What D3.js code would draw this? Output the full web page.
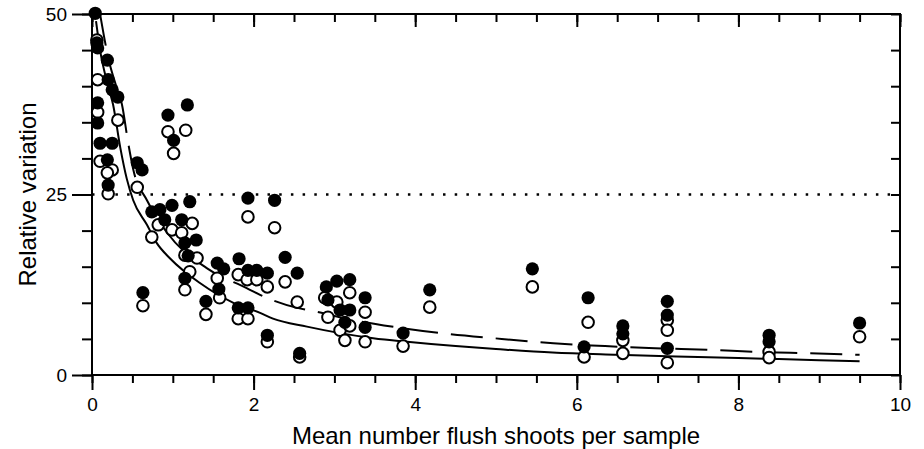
<!DOCTYPE html>
<html>
<head>
<meta charset="utf-8">
<script src="https://cdn.jsdelivr.net/npm/d3@7"></script>
<style>
  body { margin: 0; background: #fff; }
  text { font-family: "Liberation Sans", Arial, sans-serif; fill: #000; }
</style>
</head>
<body>
<div id="chart"></div>
<script>

// --------------------------------------
//  Data
// --------------------------------------

// filled circles [mean shoots, relative variation]
const filledPoints = [
  [0.04, 50.1], [0.06, 46.0], [0.07, 45.3], [0.19, 43.6], [0.20, 40.9], [0.25, 39.5],
  [0.32, 38.5], [0.07, 37.7], [0.07, 34.9], [0.10, 32.1], [0.25, 32.1], [0.19, 29.8],
  [0.56, 29.4], [0.62, 28.4], [0.20, 26.3], [0.74, 22.6], [0.84, 22.9], [0.99, 23.5],
  [1.21, 24.0], [0.90, 21.5], [1.11, 21.5], [0.94, 36.0], [1.18, 37.4], [1.01, 32.5],
  [1.15, 18.3], [1.29, 18.7], [1.19, 16.5], [1.15, 13.4], [0.63, 11.4], [1.41, 10.2],
  [1.55, 15.5], [1.63, 14.7], [1.57, 11.9], [1.82, 16.1], [1.93, 14.5], [2.04, 14.5],
  [2.17, 14.1], [1.81, 9.3], [1.93, 9.3], [1.93, 24.5], [2.26, 24.2], [2.39, 16.3],
  [2.54, 14.1], [2.17, 5.5], [2.57, 3.0], [2.90, 12.2], [3.03, 13.0], [3.19, 13.2],
  [3.38, 10.7], [2.92, 10.4], [3.07, 9.0], [3.19, 9.0], [3.13, 7.3], [3.38, 6.6],
  [3.85, 5.8], [4.18, 11.8], [5.45, 14.7], [6.14, 10.7], [6.09, 3.9], [6.57, 6.8],
  [6.57, 5.7], [7.12, 10.2], [7.12, 8.3], [7.12, 3.7], [8.38, 5.5], [8.38, 4.6],
  [9.50, 7.2]
];

// open circles [mean shoots, relative variation]
const openPoints = [
  [0.06, 46.4], [0.07, 40.9], [0.07, 36.4], [0.32, 35.3], [0.10, 29.6], [0.25, 28.4],
  [0.19, 28.0], [0.20, 25.1], [0.56, 26.0], [0.74, 19.1], [0.82, 20.8], [0.99, 20.1],
  [1.11, 19.7], [1.24, 21.0], [0.94, 33.7], [1.16, 33.9], [1.01, 30.7], [1.15, 16.6],
  [1.30, 16.2], [1.21, 14.3], [1.15, 11.8], [0.63, 9.6], [1.41, 8.4], [1.55, 13.4],
  [1.58, 10.7], [1.81, 13.9], [1.92, 13.2], [2.04, 13.2], [2.17, 12.2], [1.81, 7.8],
  [1.93, 7.8], [1.93, 21.9], [2.26, 20.4], [2.39, 12.9], [2.54, 10.1], [2.17, 4.6],
  [2.57, 2.5], [2.88, 10.7], [3.03, 10.1], [3.19, 11.4], [3.38, 8.7], [2.92, 8.0],
  [3.07, 6.2], [3.19, 6.8], [3.13, 4.8], [3.38, 4.6], [3.85, 4.0], [4.18, 9.4],
  [5.45, 12.2], [6.14, 7.3], [6.09, 2.5], [6.57, 4.8], [6.57, 3.0], [7.12, 7.6],
  [7.12, 6.2], [7.12, 1.7], [8.38, 3.2], [8.38, 2.4], [9.50, 5.3]
];

// fitted curves
const solidCurve = [
  [0.05, 49], [0.1, 45], [0.2, 40], [0.26, 37.5], [0.35, 31.5], [0.43, 27.2],
  [0.51, 24.2], [0.68, 20.8], [0.8, 18.3], [0.97, 16.1], [1.34, 12.7], [1.75, 10.0],
  [2.08, 8.6], [2.24, 7.8], [2.66, 6.7], [3.07, 5.8], [3.48, 5.1], [3.9, 4.6],
  [4.5, 4.0], [5.0, 3.6], [5.7, 3.1], [6.5, 2.8], [7.5, 2.5], [8.5, 2.2], [9.5, 1.9]
];

const dashedCurve = [
  [0.1, 50], [0.21, 43.5], [0.3, 40], [0.37, 37.5], [0.45, 32], [0.51, 28.5],
  [0.68, 24.2], [0.93, 19.7], [1.42, 14.8], [1.92, 12.0], [2.08, 11.1], [2.54, 9.3],
  [2.72, 8.9], [3.23, 7.6], [3.77, 6.6], [4.31, 5.8], [5.07, 5.0], [5.71, 4.4],
  [6.35, 4.0], [6.97, 3.7], [7.61, 3.5], [8.23, 3.2], [8.89, 3.0], [9.5, 2.8]
];

const thresholdLine = 25;
const xMajorTicks = [0, 2, 4, 6, 8, 10];
const xMinorTicks = d3.range(0, 10.01, 0.5);
const yMajorTicks = [0, 25, 50];
const yMinorTicks = d3.range(0, 50.01, 5);
const xTitle = "Mean number flush shoots per sample";
const yTitle = "Relative variation";

// --------------------------------------
//  Canvas
// --------------------------------------

const width = 924, height = 449;
const margin = {top: 14, right: 24, bottom: 74, left: 92};
const innerwidth = width - margin.left - margin.right;
const innerheight = height - margin.top - margin.bottom;

const svg = d3.select("#chart")
  .append("svg")
    .attr("width", width)
    .attr("height", height)
    .attr("viewBox", [0, 0, width, height]);

const inner = svg
  .append("g")
    .attr("transform", `translate(${margin.left}, ${margin.top})`);

// --------------------------------------
//  Scales
// --------------------------------------

const x = d3.scaleLinear().domain([0, 10]).range([0, innerwidth]);
const y = d3.scaleLinear().domain([0, 50]).range([innerheight, 0]);

// --------------------------------------
//  Axes
// --------------------------------------

function styleAxis(g) {
  g.select(".domain").remove();
  g.selectAll(".tick line").attr("stroke", "#000").attr("stroke-width", 2);
  g.selectAll(".tick text").attr("font-size", 19).attr("font-family", "Liberation Sans, Arial, sans-serif");
}

// bottom
inner.append("g")
  .attr("transform", `translate(0, ${innerheight})`)
  .call(d3.axisBottom(x).tickValues(xMinorTicks).tickSize(8).tickFormat(""))
  .call(styleAxis);

inner.append("g")
  .attr("transform", `translate(0, ${innerheight})`)
  .call(d3.axisBottom(x).tickValues(xMajorTicks).tickSize(15).tickPadding(8).tickFormat(d3.format("d")))
  .call(styleAxis);

// top (inward)
inner.append("g")
  .call(d3.axisTop(x).tickValues(xMinorTicks).tickSize(-8).tickFormat(""))
  .call(styleAxis);

inner.append("g")
  .call(d3.axisTop(x).tickValues(xMajorTicks).tickSize(-13).tickFormat(""))
  .call(styleAxis);

// left
inner.append("g")
  .call(d3.axisLeft(y).tickValues(yMinorTicks).tickSize(10).tickFormat(""))
  .call(styleAxis);

inner.append("g")
  .call(d3.axisLeft(y).tickValues(yMajorTicks).tickSize(20).tickPadding(5).tickFormat(d3.format("d")))
  .call(styleAxis);

// right (inward)
inner.append("g")
  .attr("transform", `translate(${innerwidth}, 0)`)
  .call(d3.axisRight(y).tickValues(yMinorTicks).tickSize(-9).tickFormat(""))
  .call(styleAxis);

// frame
inner.append("rect")
  .attr("width", innerwidth)
  .attr("height", innerheight)
  .attr("fill", "none")
  .attr("stroke", "#000")
  .attr("stroke-width", 2);

// titles
svg.append("text")
  .attr("x", margin.left + innerwidth / 2)
  .attr("y", 444)
  .attr("text-anchor", "middle")
  .attr("font-size", 24)
  .text(xTitle);

svg.append("text")
  .attr("transform", `translate(36, ${margin.top + y(25)}) rotate(-90)`)
  .attr("text-anchor", "middle")
  .attr("font-size", 24)
  .text(yTitle);

// --------------------------------------
//  Data drawing
// --------------------------------------

inner.append("line")
  .attr("x1", x(0))
  .attr("x2", x(10))
  .attr("y1", y(thresholdLine))
  .attr("y2", y(thresholdLine))
  .attr("stroke", "#000")
  .attr("stroke-width", 2.5)
  .attr("stroke-dasharray", "2.5,9.2");

const line = d3.line()
  .x(d => x(d[0]))
  .y(d => y(d[1]))
  .curve(d3.curveMonotoneX);

inner.append("path")
  .datum(solidCurve)
  .attr("d", line)
  .attr("fill", "none")
  .attr("stroke", "#000")
  .attr("stroke-width", 2);

inner.append("path")
  .datum(dashedCurve)
  .attr("d", line)
  .attr("fill", "none")
  .attr("stroke", "#000")
  .attr("stroke-width", 2)
  .attr("stroke-dasharray", "32,13");

inner.selectAll(".open")
  .data(openPoints)
  .join("circle")
  .attr("class", "open")
  .attr("cx", d => x(d[0]))
  .attr("cy", d => y(d[1]))
  .attr("r", 5.8)
  .attr("fill", "#fff")
  .attr("stroke", "#000")
  .attr("stroke-width", 2);

inner.selectAll(".filled")
  .data(filledPoints)
  .join("circle")
  .attr("class", "filled")
  .attr("cx", d => x(d[0]))
  .attr("cy", d => y(d[1]))
  .attr("r", 6.6)
  .attr("fill", "#000");

</script>
</body>
</html>
